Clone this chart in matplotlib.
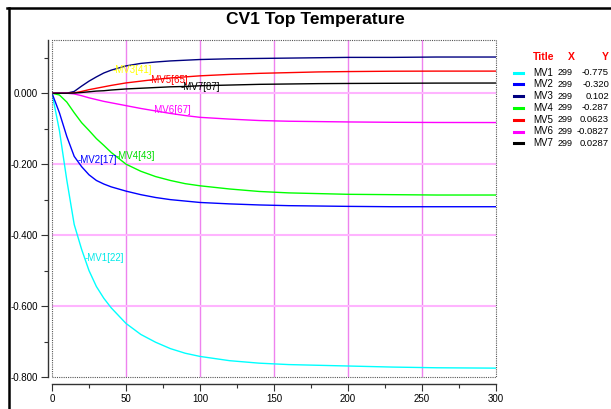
import matplotlib
matplotlib.use("Agg")
import matplotlib.pyplot as plt
import numpy as np
from matplotlib.lines import Line2D
from matplotlib.patches import Rectangle
from matplotlib.ticker import FormatStrFormatter, MultipleLocator

# step index and responses
steps = [0, 5, 10, 15, 20, 25, 30, 35, 40, 50, 60, 70, 80, 90, 100,
         120, 140, 160, 180, 200, 230, 260, 300]
mv1 = [0.0, -0.105, -0.245, -0.370, -0.440, -0.500, -0.545, -0.578, -0.605,
       -0.649, -0.680, -0.702, -0.720, -0.733, -0.742,
       -0.754, -0.761, -0.765, -0.767, -0.769, -0.772, -0.774, -0.775]
mv2 = [0.0, -0.055, -0.122, -0.178, -0.207, -0.230, -0.246, -0.256, -0.264,
       -0.276, -0.286, -0.294, -0.300, -0.304, -0.308,
       -0.312, -0.315, -0.317, -0.318, -0.319, -0.320, -0.320, -0.320]
mv3 = [0.0, 0.0, 0.0, 0.005, 0.020, 0.034, 0.046, 0.057, 0.065,
       0.077, 0.084, 0.088, 0.091, 0.093, 0.095,
       0.097, 0.098, 0.099, 0.100, 0.101, 0.101, 0.102, 0.102]
mv4 = [0.0, -0.005, -0.025, -0.055, -0.083, -0.105, -0.128, -0.147, -0.167,
       -0.200, -0.220, -0.235, -0.246, -0.255, -0.261,
       -0.270, -0.277, -0.281, -0.283, -0.285, -0.286, -0.287, -0.287]
mv5 = [0.0, 0.0, 0.0, 0.001, 0.005, 0.010, 0.014, 0.018, 0.022,
       0.029, 0.034, 0.039, 0.043, 0.046, 0.049,
       0.053, 0.056, 0.058, 0.060, 0.061, 0.062, 0.0623, 0.0623]
mv6 = [0.0, 0.0, 0.0, -0.002, -0.007, -0.013, -0.018, -0.023, -0.027,
       -0.035, -0.043, -0.050, -0.057, -0.063, -0.068,
       -0.073, -0.077, -0.079, -0.080, -0.081, -0.082, -0.0825, -0.0827]
mv7 = [0.0, 0.0, 0.0, 0.0005, 0.002, 0.004, 0.006, 0.007, 0.009,
       0.012, 0.014, 0.016, 0.018, 0.019, 0.021,
       0.023, 0.025, 0.026, 0.027, 0.0275, 0.028, 0.0285, 0.0287]

names = ["MV1", "MV2", "MV3", "MV4", "MV5", "MV6", "MV7"]
label_at = [22, 17, 41, 43, 65, 67, 87]
legend_x = [299, 299, 299, 299, 299, 299, 299]
legend_y = ["-0.775", "-0.320", "0.102", "-0.287", "0.0623", "-0.0827", "0.0287"]

series = [mv1, mv2, mv3, mv4, mv5, mv6, mv7]
colors = ["#00ffff", "#0000ff", "#000080", "#00ff00", "#ff0000", "#ff00ff", "#000000"]
label_colors = ["#00e8e8", "#0000ff", "#ffff00", "#00dd00", "#ff0000", "#ff00ff", "#000000"]

plt.rcParams["font.family"] = ["Liberation Sans", "DejaVu Sans"]

W, H = 611, 409
fig = plt.figure(figsize=(W / 100, H / 100), dpi=100)


def fx(px):
    return px / W


def fy(py):
    return 1 - py / H


ax = fig.add_axes([fx(52), fy(377), (496 - 52) / W, (377 - 40) / H])

# grid
for gx in [50, 100, 150, 200, 250]:
    ax.axvline(gx, color="#ee82ee", lw=1, zorder=1)
for gy in [0.0, -0.2, -0.4, -0.6]:
    ax.axhline(gy, color="#ffb4ff", lw=1.5, zorder=1)

for vals, c in zip(series, colors):
    ax.plot(steps, vals, color=c, lw=1, zorder=3)

for name, lx, vals, lc in zip(names, label_at, series, label_colors):
    ly = np.interp(lx, steps, vals)
    ax.text(lx, ly, f"-{name}[{lx}]", color=lc, fontsize=7,
            ha="left", va="center", zorder=4)

ax.set_xlim(0, 300)
ax.set_ylim(-0.8, 0.15)
ax.xaxis.set_major_locator(MultipleLocator(50))
ax.xaxis.set_minor_locator(MultipleLocator(25))
ax.set_yticks([-0.8, -0.6, -0.4, -0.2, 0.0])
ax.set_yticks([-0.7, -0.5, -0.3, -0.1, 0.1], minor=True)
ax.yaxis.set_major_formatter(FormatStrFormatter("%.3f"))

for s in ["top", "right"]:
    ax.spines[s].set_visible(False)
ax.spines["left"].set_position(("outward", 3))
ax.spines["bottom"].set_position(("outward", 5))
for s in ["left", "bottom"]:
    ax.spines[s].set_color("#333333")
    ax.spines[s].set_linewidth(1)
ax.tick_params(which="major", length=5, width=0.8, color="#333333",
               labelsize=7, pad=2)
ax.tick_params(which="minor", length=3, width=0.8, color="#333333")
ax.add_patch(Rectangle((0, 0), 1, 1, transform=ax.transAxes, fill=False,
                       ls=(0, (1, 1)), lw=0.8, ec="#555555", clip_on=False,
                       zorder=5))

fig.text(fx(315), fy(19.5), "CV1 Top Temperature", fontsize=12.5,
         fontweight="bold", ha="center", va="center")

# legend table
hy = 57
fig.text(fx(544), fy(hy), "Title", color="red", fontsize=7.5,
         fontweight="bold", ha="center", va="center")
fig.text(fx(571), fy(hy), "X", color="red", fontsize=7.5,
         fontweight="bold", ha="center", va="center")
fig.text(fx(605), fy(hy), "Y", color="red", fontsize=7.5,
         fontweight="bold", ha="center", va="center")
for i, (name, c, lxv, lyv) in enumerate(zip(names, colors, legend_x, legend_y)):
    ry = 72.5 + i * 11.8
    fig.add_artist(Line2D([fx(514), fx(523)], [fy(ry), fy(ry)], color=c, lw=2.2))
    fig.text(fx(533), fy(ry), name, fontsize=7, ha="left", va="center")
    fig.text(fx(565), fy(ry), str(lxv), fontsize=6.5, ha="center", va="center")
    fig.text(fx(609), fy(ry), lyv, fontsize=6.8, ha="right", va="center")

# window border
fig.add_artist(Line2D([fx(7.5), 1], [fy(7.5), fy(7.5)], color="black", lw=1.8))
fig.add_artist(Line2D([fx(8.5), fx(8.5)], [fy(7.5), 0], color="black", lw=1.8))

fig.savefig("out.png", dpi=100)
